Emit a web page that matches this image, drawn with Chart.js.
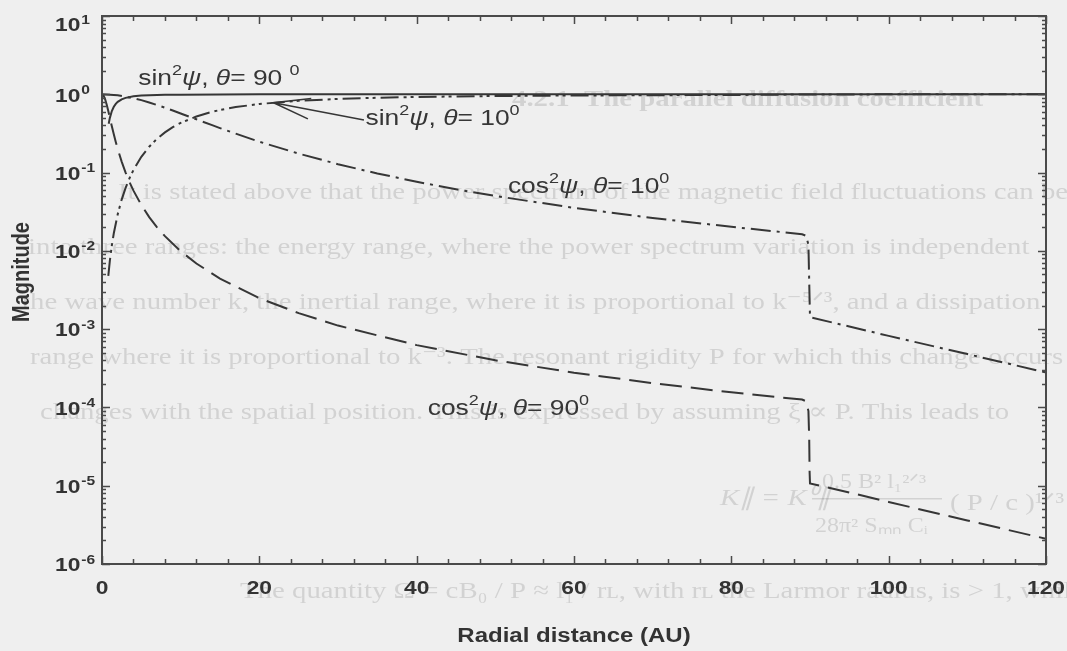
<!DOCTYPE html>
<html>
<head>
<meta charset="utf-8">
<script src="https://cdn.jsdelivr.net/npm/chart.js@4.4.1/dist/chart.umd.min.js"></script>
<style>
  html, body { margin: 0; padding: 0; background: #efefef; }
  #wrap { width: 1067px; height: 651px; }
</style>
</head>
<body>
<div id="wrap"><canvas id="myChart" width="1067" height="651"></canvas></div>
<script>
// radial distance (AU) and magnitude for each curve
const rSin90 = [0.85, 1, 1.25, 1.5, 1.75, 2, 2.5, 3, 4, 5, 6, 8, 10, 15, 20, 30, 60, 120];
const sin90 = [0.42, 0.5, 0.61, 0.692, 0.754, 0.8, 0.862, 0.9, 0.941, 0.962, 0.973, 0.985, 0.99, 0.9956, 0.9975, 0.9989, 0.9997, 1];

const rCos90 = [0, 0.2, 0.4, 0.6, 0.8, 1, 1.25, 1.5, 1.75, 2, 2.5, 3, 3.5, 4, 5, 6, 7, 8, 10, 12, 15, 20, 25, 30,
  40, 50, 60, 70, 80, 89, 89.5, 89.8, 89.9, 89.95, 90, 95, 100, 110, 120];
const cos90 = [1, 0.9615, 0.862, 0.735, 0.61, 0.5, 0.39, 0.308, 0.246, 0.2, 0.138, 0.1, 0.0755, 0.0588, 0.0385,
  0.027, 0.02, 0.0154, 0.0099, 0.0069, 0.00442, 0.00249, 0.0016, 0.00111, 6.25e-4, 4.0e-4, 2.78e-4, 2.04e-4,
  1.56e-4, 1.26e-4, 1.2e-4, 9e-5, 4e-5, 1.5e-5, 1.07e-5, 8.2e-6, 6.2e-6, 3.6e-6, 2.1e-6];

const rCos10 = [0, 2, 4, 5, 6, 7, 8, 9, 10, 12, 14, 15, 17, 20, 25, 30, 35, 40, 45, 50, 60, 70, 80, 89,
  89.5, 89.8, 89.9, 90, 95, 100, 110, 120];
const cos10 = [1, 0.97, 0.892, 0.8415, 0.786, 0.729, 0.674, 0.62, 0.569, 0.479, 0.403, 0.37, 0.314, 0.248,
  0.1745, 0.128, 0.0974, 0.0763, 0.0612, 0.0502, 0.0354, 0.0263, 0.0203, 0.0163,
  0.0156, 0.012, 0.004, 0.00142, 0.00108, 8.2e-4, 4.8e-4, 2.8e-4];

const rSin10 = [0.8, 1, 1.25, 1.5, 2, 2.5, 3, 3.5, 4, 5, 6, 7, 8, 9, 10, 12, 14, 15, 17, 20, 25, 30, 35, 40,
  45, 50, 60, 70, 80, 90, 100, 120];
const sin10 = [0.0048, 0.0075, 0.0117, 0.0168, 0.0294, 0.0452, 0.0638, 0.0848, 0.108, 0.159, 0.214, 0.2705,
  0.326, 0.38, 0.431, 0.521, 0.597, 0.63, 0.686, 0.752, 0.826, 0.872, 0.9026, 0.924, 0.939, 0.95, 0.965,
  0.974, 0.98, 0.995, 0.998, 0.999];

const xTicks = [0, 20, 40, 60, 80, 100, 120];
const yExponents = [1, 0, -1, -2, -3, -4, -5, -6];

const ink = '#363636';
const WIDE = 1.2; // the printed lettering is set wide
const pts = (xs, ys) => xs.map((x, i) => ({ x: x, y: ys[i] }));

// draw text stretched horizontally
function wideText(c, t, x, y) {
  c.save();
  c.translate(x, y);
  c.scale(WIDE, 1);
  c.fillText(t, 0, 0);
  const w = c.measureText(t).width * WIDE;
  c.restore();
  return w;
}

// faint print from the book page behind the figure
const pageText = [
  { t: '4.2.1  The parallel diffusion coefficient', x: 512, y: 106, bold: true },
  { t: 'It is stated above that the power spectrum of the magnetic field fluctuations can be', x: 118, y: 199 },
  { t: 'into three ranges: the energy range, where the power spectrum variation is independent', x: 28, y: 254 },
  { t: 'the wave number k, the inertial range, where it is proportional to k\u207B\u2075\u141F\u00B3, and a dissipation', x: 22, y: 309 },
  { t: 'range where it is proportional to k\u207B\u00B3. The resonant rigidity P for which this change occurs', x: 30, y: 364 },
  { t: 'changes with the spatial position. This is expressed by assuming \u03BE \u221D P. This leads to', x: 40, y: 419 },
  { t: 'The quantity \u03A9 = cB\u2080 / P \u2248 l\u2081 / r\u029F, with r\u029F the Larmor radius, is > 1, while if it is < 1', x: 240, y: 598 }
];

const paper = {
  id: 'paper',
  beforeDraw(chart) {
    const c = chart.ctx;
    c.save();
    c.fillStyle = '#efefef';
    c.fillRect(0, 0, chart.width, chart.height);
    c.fillStyle = 'rgba(60,60,60,0.16)';
    c.textBaseline = 'alphabetic';
    pageText.forEach(l => {
      c.font = (l.bold ? 'bold ' : '') + '24px "Liberation Serif", "DejaVu Serif", serif';
      wideText(c, l.t, l.x, l.y);
    });
    // displayed formula
    c.font = 'italic 24px "Liberation Serif", serif';
    wideText(c, 'K\u2225 = K\u2070\u2225', 720, 505);
    c.font = '20px "Liberation Serif", serif';
    wideText(c, '0.5 B\u00B2 l\u2081\u00B2\u141F\u00B3', 822, 488);
    wideText(c, '28\u03C0\u00B2 S\u2098\u2099 C\u1D62', 815, 532);
    c.fillRect(812, 498, 130, 1.5);
    c.font = '24px "Liberation Serif", serif';
    wideText(c, '( P / c )\u00B9\u141F\u00B3', 950, 510);
    c.restore();
  }
};

function richText(c, parts, x, y) {
  let cx = x;
  parts.forEach(p => {
    c.font = (p.it ? 'italic ' : '') + (p.sup ? 15 : 22) + 'px "Liberation Sans", Arial, sans-serif';
    cx += wideText(c, p.t, cx, p.sup ? y - 10 : y);
  });
}

const curveLabels = [
  { fn: 'sin', th: '90 ', x: 4.6, y: 1.32 },
  { fn: 'sin', th: '10', x: 33.5, y: 0.405 },
  { fn: 'cos', th: '10', x: 51.6, y: 0.055 },
  { fn: 'cos', th: '90', x: 41.4, y: 8.0e-5 }
];

const frame = {
  id: 'frame',
  afterDatasetsDraw(chart) {
    const c = chart.ctx;
    const xs = chart.scales.x, ys = chart.scales.y;
    const a = chart.chartArea;
    c.save();
    c.strokeStyle = '#4a4a4a';
    c.lineWidth = 2;
    c.strokeRect(a.left, a.top, a.right - a.left, a.bottom - a.top);

    c.lineWidth = 1.5;
    c.beginPath();
    // x ticks: major every 20, minor every 4, top and bottom
    for (let v = 0; v <= 120; v += 4) {
      const px = Math.round(xs.getPixelForValue(v)) + 0.5;
      const len = v % 20 === 0 ? 8 : 5;
      c.moveTo(px, a.bottom); c.lineTo(px, a.bottom - len);
      c.moveTo(px, a.top); c.lineTo(px, a.top + len);
    }
    // y ticks: decades and 2..9 minor, left and right
    for (let e = -6; e <= 1; e++) {
      for (let m = 1; m <= 9; m++) {
        if (e === 1 && m > 1) continue;
        const py = Math.round(ys.getPixelForValue(m * Math.pow(10, e))) + 0.5;
        const len = m === 1 ? 8 : 4;
        c.moveTo(a.left, py); c.lineTo(a.left + len, py);
        c.moveTo(a.right, py); c.lineTo(a.right - len, py);
      }
    }
    c.stroke();

    c.fillStyle = '#333';
    c.textBaseline = 'middle';
    c.textAlign = 'center';
    c.font = 'bold 19px "Liberation Sans", Arial, sans-serif';
    xTicks.forEach(v => wideText(c, String(v), xs.getPixelForValue(v), 589));

    c.textAlign = 'left';
    yExponents.forEach(e => {
      const py = Math.max(ys.getPixelForValue(Math.pow(10, e)) + 2, 26);
      c.font = 'bold 19px "Liberation Sans", Arial, sans-serif';
      const w = wideText(c, '10', 55, py);
      c.font = 'bold 13px "Liberation Sans", Arial, sans-serif';
      wideText(c, e < 0 ? '-' + (-e) : String(e), 56 + w, py - 6);
    });

    c.font = 'bold 20px "Liberation Sans", Arial, sans-serif';
    c.textAlign = 'center';
    wideText(c, 'Radial distance (AU)', (a.left + a.right) / 2, 636);
    c.save();
    c.translate(22, 272);
    c.rotate(-Math.PI / 2);
    c.scale(1, WIDE);
    c.fillText('Magnitude', 0, 0);
    c.restore();

    // curve labels
    c.textAlign = 'left';
    c.textBaseline = 'alphabetic';
    c.fillStyle = ink;
    curveLabels.forEach(l => {
      richText(c, [
        { t: l.fn }, { t: '2', sup: true }, { t: '\u03C8', it: true }, { t: ', ' },
        { t: '\u03B8', it: true }, { t: '= ' + l.th }, { t: '0', sup: true }
      ], xs.getPixelForValue(l.x), ys.getPixelForValue(l.y));
    });

    // arrow from the sin^2 (10 deg) label onto its curve
    const tipX = xs.getPixelForValue(21.8), tipY = ys.getPixelForValue(0.78);
    const tailX = xs.getPixelForValue(33.3), tailY = ys.getPixelForValue(0.47);
    const ang = Math.atan2(tailY - tipY, tailX - tipX);
    c.strokeStyle = ink;
    c.lineWidth = 1.6;
    c.beginPath();
    c.moveTo(tailX, tailY); c.lineTo(tipX, tipY);
    c.moveTo(tipX + 38 * Math.cos(ang - 0.3), tipY + 38 * Math.sin(ang - 0.3));
    c.lineTo(tipX, tipY);
    c.lineTo(tipX + 38 * Math.cos(ang + 0.25), tipY + 38 * Math.sin(ang + 0.25));
    c.stroke();
    c.restore();
  }
};

const ctx = document.getElementById('myChart');

new Chart(ctx, {
  type: 'line',
  data: {
    datasets: [
      { label: 'sin2 psi, theta = 90', data: pts(rSin90, sin90), borderDash: [] },
      { label: 'cos2 psi, theta = 90', data: pts(rCos90, cos90), borderDash: [22, 9] },
      { label: 'cos2 psi, theta = 10', data: pts(rCos10, cos10), borderDash: [20, 6, 3, 6] },
      { label: 'sin2 psi, theta = 10', data: pts(rSin10, sin10), borderDash: [18, 5, 3, 4, 3, 5] }
    ].map(d => Object.assign(d, {
      borderColor: ink,
      borderWidth: 2,
      pointRadius: 0,
      tension: 0,
      fill: false
    }))
  },
  options: {
    responsive: false,
    animation: false,
    layout: { padding: { left: 102, right: 21, top: 16, bottom: 87 } },
    plugins: { legend: { display: false }, tooltip: { enabled: false } },
    scales: {
      x: { type: 'linear', min: 0, max: 120, display: false },
      y: { type: 'logarithmic', min: 1e-6, max: 10, display: false }
    }
  },
  plugins: [paper, frame]
});
</script>
</body>
</html>
